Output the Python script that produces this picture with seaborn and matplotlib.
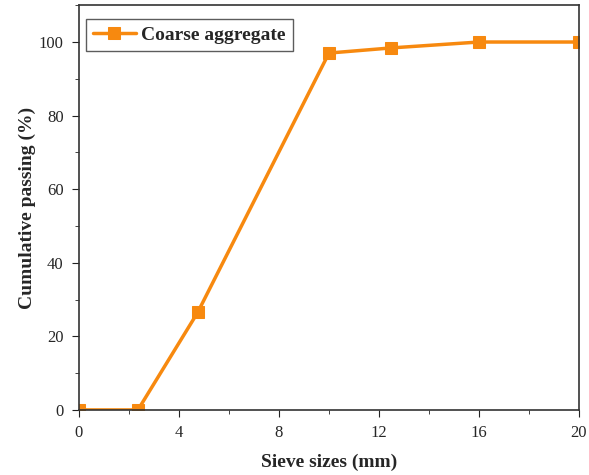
import numpy as np
import pandas as pd
import matplotlib
matplotlib.use("Agg")
import matplotlib.pyplot as plt
import seaborn as sns
from matplotlib.ticker import MultipleLocator

# sieve analysis of the coarse aggregate
sieve_mm = [0, 2.36, 4.75, 10, 12.5, 16, 20]
passing_pct = [0, 0, 26.5, 97.0, 98.4, 100, 100]
series_name = "Coarse aggregate"

df = pd.DataFrame({"sieve": sieve_mm, "passing": passing_pct, "material": series_name})

sns.set_style("ticks")
plt.rcParams["font.family"] = ["Liberation Serif", "DejaVu Serif"]

fig = plt.figure(figsize=(5.89, 4.75), dpi=100)
ax = fig.add_axes([0.134, 0.137, 0.849, 0.852])

sns.lineplot(data=df, x="sieve", y="passing", hue="material",
             palette=["#F7890F"], marker="s", markersize=9,
             markeredgecolor="#F7890F", linewidth=2.5, ax=ax)

ax.set_xlim(0, 20)
ax.set_ylim(0, 110)
ax.xaxis.set_major_locator(MultipleLocator(4))
ax.xaxis.set_minor_locator(MultipleLocator(2))
ax.yaxis.set_major_locator(MultipleLocator(20))
ax.yaxis.set_minor_locator(MultipleLocator(10))
ax.tick_params(which="both", direction="out", labelsize=12, color="#222222", pad=6)
ax.tick_params(which="major", length=5)
ax.tick_params(which="minor", length=3)
for s in ax.spines.values():
    s.set_visible(True)
    s.set_color("#333333")
    s.set_linewidth(1.2)

ax.set_xlabel("Sieve sizes (mm)", fontsize=14, fontweight="bold", labelpad=9)
ax.set_ylabel("Cumulative passing (%)", fontsize=14, fontweight="bold", labelpad=2)

leg = ax.legend(loc="upper left", bbox_to_anchor=(0.014, 0.965), fontsize=14,
                frameon=True, fancybox=False, handlelength=2.2, handletextpad=0.3,
                borderaxespad=0, borderpad=0.35, edgecolor="#333333")
for t in leg.get_texts():
    t.set_fontweight("bold")
leg.get_frame().set_linewidth(1.0)

fig.savefig("out.png", dpi=100)
